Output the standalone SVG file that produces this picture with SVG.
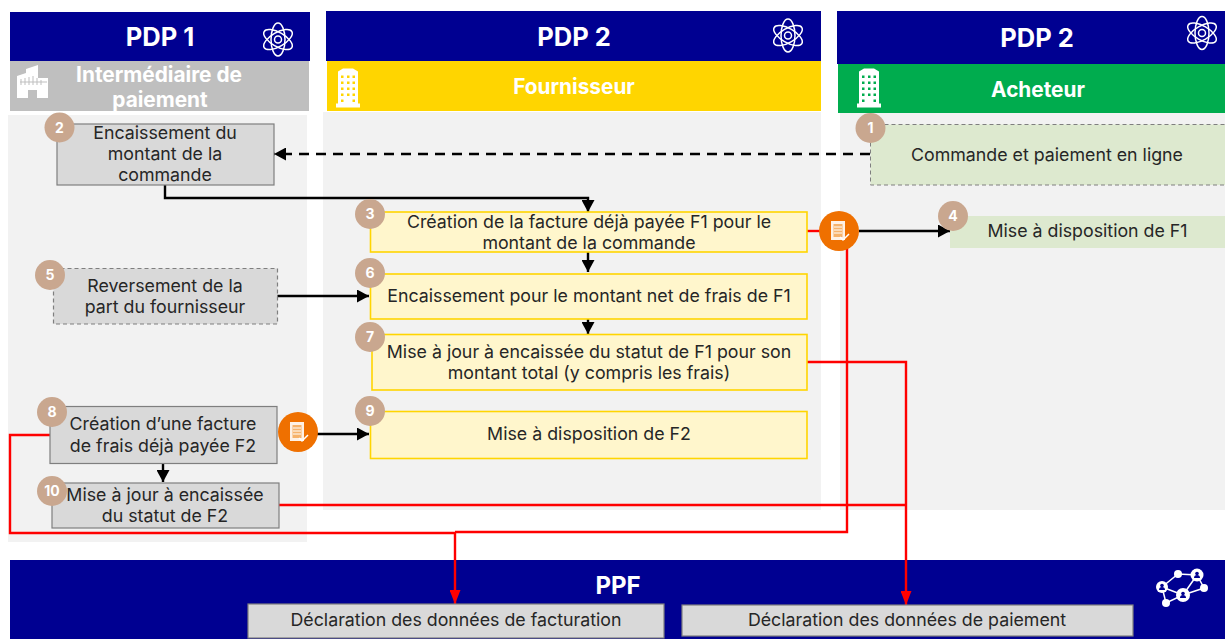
<svg xmlns="http://www.w3.org/2000/svg" width="1225" height="639" viewBox="0 0 1225 639">
<style>
text{font-family:"Inter","Noto Sans","Liberation Sans",sans-serif;text-anchor:middle}
.h{font-size:25.500px;font-weight:700;fill:#fff}
.s{font-size:20.800px;font-weight:700;fill:#fff}
.t{font-size:17.800px;fill:#262626}
.n{font-size:14px;font-weight:700;fill:#fff}
.navy{fill:#000091}
.panel{fill:#f2f2f2}
.gray{fill:#d9d9d9;stroke:#7f7f7f;stroke-width:1.2}
.dash{stroke-dasharray:4 3}
.yel{fill:#fff6cc;stroke:#ffd500;stroke-width:1.6}
.grn{fill:#dde9cf}
.b{fill:#c9a78f}
.o{fill:#ef7000}
.k{fill:none;stroke:#000;stroke-width:2.400}
.r{fill:none;stroke:#f00;stroke-width:2.400}
.i{fill:none;stroke:#fff;stroke-width:1.5}
</style>
<defs>
<marker id="ak" markerUnits="userSpaceOnUse" markerWidth="13" markerHeight="13" refX="12" refY="6.5" orient="auto"><path d="M0 0L12 6.5L0 13Z" fill="#000"/></marker>
<marker id="ar" markerUnits="userSpaceOnUse" markerWidth="14" markerHeight="11" refX="14" refY="5.5" orient="auto"><path d="M0 0L14 5.5L0 11Z" fill="#f00"/></marker>
<g id="atom" class="i"><ellipse rx="16" ry="7" transform="rotate(30)"/><ellipse rx="16" ry="7" transform="rotate(-30)"/><ellipse rx="7" ry="16.500"/><circle r="3.500"/></g>
<g id="bld"><path d="M-10 -16L-5 -19H5L10 -16V16H12V20H-12V16H-10Z" fill="#fff"/><g fill="currentColor"><rect x="-7" y="-12" width="2.500" height="2.500"/><rect x="-1" y="-12" width="2.500" height="2.500"/><rect x="4.500" y="-12" width="2.500" height="2.500"/><rect x="-7" y="-6" width="2.500" height="2.500"/><rect x="-1" y="-6" width="2.500" height="2.500"/><rect x="4.500" y="-6" width="2.500" height="2.500"/><rect x="-7" y="0" width="2.500" height="2.500"/><rect x="-1" y="0" width="2.500" height="2.500"/><rect x="4.500" y="0" width="2.500" height="2.500"/><rect x="-7" y="6" width="2.500" height="2.500"/><rect x="-1" y="6" width="2.500" height="2.500"/><rect x="4.500" y="6" width="2.500" height="2.500"/><rect x="-7" y="12" width="2.500" height="2.500"/><rect x="4.500" y="12" width="2.500" height="2.500"/></g></g>
<g id="doc"><rect x="-8" y="-10" width="14" height="19" fill="#fff" opacity=".9"/><rect x="-5.500" y="-7" width="9" height="13" fill="#f6b26b"/><path d="M-5 -4H3M-5 -1H3M-5 2H3" stroke="#fff" stroke-width="1"/><path d="M1 6L4 9L10 3" fill="none" stroke="#fff" stroke-width="1.500"/></g>
<g id="pers"><circle r="1.800" cy="-1.500" fill="#000091"/><path d="M-3 3A3 3 0 0 1 3 3Z" fill="#000091"/></g>
</defs>

<rect class="panel" x="8" y="115" width="299" height="427"/>
<rect class="panel" x="323" y="112" width="498" height="398"/>
<rect class="panel" x="840" y="113" width="385" height="397"/>

<g id="head-pdp1"><rect class="navy" x="10" y="12" width="300" height="49"/><text class="h" x="160" y="46">PDP 1</text><use href="#atom" x="278" y="39.500"/></g>
<g id="head-pdp2-f"><rect class="navy" x="326" y="11" width="495" height="50"/><text class="h" x="574" y="46">PDP 2</text><use href="#atom" x="788" y="35.500"/></g>
<g id="head-pdp2-a"><rect class="navy" x="837" y="11" width="388" height="53"/><text class="h" x="1037" y="47">PDP 2</text><use href="#atom" x="1202" y="33"/></g>

<g id="sub-intermediaire"><rect x="10" y="61" width="299" height="50" fill="#bfbfbf"/><path d="M17 98V76L26 73V69L38 65V78H48V98H37V90H28V98Z" fill="#fff"/><path d="M21 79V85M25 78V85M29 77V85M33 76V85M37 78V85M41 80V85M20 82H47" stroke="#bfbfbf" stroke-width="1"/><text class="s" x="159" y="82">Intermédiaire de</text><text class="s" x="160" y="107">paiement</text></g>
<g id="sub-fournisseur"><rect x="327" y="61" width="494" height="50" fill="#ffd500"/><use href="#bld" x="348" y="87.500" style="color:#ffd500"/><text class="s" x="574" y="94">Fournisseur</text></g>
<g id="sub-acheteur"><rect x="838" y="64" width="387" height="49" fill="#00ac4e"/><use href="#bld" x="869" y="87.500" style="color:#00ac4e"/><text class="s" x="1038" y="97">Acheteur</text></g>

<g id="ppf"><rect class="navy" x="10" y="560" width="1215" height="79"/><text class="h" x="618" y="594" style="font-size:24px">PPF</text>
<g fill="none" stroke="#fff" stroke-width="1.500"><path d="M1162 587L1178 574L1197 575L1204 588L1183 595L1166 603ZM1183 595L1162 587M1197 575L1183 595"/></g>
<g fill="#fff"><circle cx="1162" cy="587" r="6"/><circle cx="1178" cy="574" r="4"/><circle cx="1197" cy="575" r="6.500"/><circle cx="1204" cy="588" r="4"/><circle cx="1183" cy="595" r="7"/><circle cx="1166" cy="603" r="4"/></g>
<use href="#pers" x="1162" y="587"/><use href="#pers" x="1197" y="575"/><use href="#pers" x="1183" y="595"/>
</g>

<g id="connectors">
<path class="k" d="M870 154H274" stroke-dasharray="10 7" marker-end="url(#ak)"/>
<path class="k" d="M165 185V198H588V212" marker-end="url(#ak)"/>
<path class="k" d="M588 252V272" marker-end="url(#ak)"/>
<path class="k" d="M588 319V334" marker-end="url(#ak)"/>
<path class="k" d="M277 296H369" marker-end="url(#ak)"/>
<path class="k" d="M317 434H369" marker-end="url(#ak)"/>
<path class="k" d="M163 463V482" marker-end="url(#ak)"/>
<path class="k" d="M859 231H950" marker-end="url(#ak)"/>
<path class="r" d="M807 231H820"/>
<path class="r" d="M847 245V532H455"/>
<path class="r" d="M50 435H10V533H455V604" marker-end="url(#ar)"/>
<path class="r" d="M807 362H906V605" marker-end="url(#ar)"/>
<path class="r" d="M279 505H906"/>
</g>

<g id="n2"><rect class="gray" x="57" y="124" width="217" height="61"/><text class="t" x="165" y="139">Encaissement du</text><text class="t" x="165" y="160">montant de la</text><text class="t" x="165" y="181">commande</text><circle class="b" cx="59.500" cy="127.500" r="15"/><text class="n" x="59.500" y="132.500">2</text></g>
<g id="n1"><rect class="grn" x="870.500" y="124.500" width="360" height="60.500" stroke="#7f7f7f" stroke-width="1" stroke-dasharray="4 3"/><text class="t" x="1047" y="161">Commande et paiement en ligne</text><circle class="b" cx="870.500" cy="128" r="15"/><text class="n" x="870.500" y="133">1</text></g>
<g id="n3"><rect class="yel" x="370.500" y="212" width="436.500" height="40"/><text class="t" x="589" y="228">Création de la facture déjà payée F1 pour le</text><text class="t" x="589" y="249">montant de la commande</text><circle class="b" cx="370" cy="214" r="15"/><text class="n" x="370" y="219">3</text></g>
<g id="badge-f1"><circle class="o" cx="839" cy="231" r="20"/><use href="#doc" x="839" y="231"/></g>
<g id="n4"><rect class="grn" x="950" y="216" width="275" height="32"/><text class="t" x="1087.500" y="237">Mise à disposition de F1</text><circle class="b" cx="953" cy="216" r="15"/><text class="n" x="953" y="221">4</text></g>
<g id="n5"><rect class="gray dash" x="53.500" y="268.500" width="224" height="55.500"/><text class="t" x="165" y="292">Reversement de la</text><text class="t" x="165" y="313">part du fournisseur</text><circle class="b" cx="50" cy="275" r="15"/><text class="n" x="50" y="280">5</text></g>
<g id="n6"><rect class="yel" x="370.500" y="274" width="436.500" height="45"/><text class="t" x="589" y="302">Encaissement pour le montant net de frais de F1</text><circle class="b" cx="370" cy="273" r="15"/><text class="n" x="370" y="278">6</text></g>
<g id="n7"><rect class="yel" x="372" y="334.500" width="435" height="55.500"/><text class="t" x="589" y="358">Mise à jour à encaissée du statut de F1 pour son</text><text class="t" x="589" y="379">montant total (y compris les frais)</text><circle class="b" cx="370" cy="337" r="15"/><text class="n" x="370" y="342">7</text></g>
<g id="n8"><rect class="gray" x="50" y="406.500" width="227" height="57"/><text class="t" x="163" y="430">Création d’une facture</text><text class="t" x="163" y="452">de frais déjà payée F2</text><circle class="b" cx="52" cy="412" r="15"/><text class="n" x="52" y="417">8</text></g>
<g id="badge-f2"><circle class="o" cx="298" cy="432" r="20"/><use href="#doc" x="298" y="432"/></g>
<g id="n9"><rect class="yel" x="370.500" y="411.500" width="436.500" height="47"/><text class="t" x="589" y="440">Mise à disposition de F2</text><circle class="b" cx="370" cy="411" r="15"/><text class="n" x="370" y="416">9</text></g>
<g id="n10"><rect class="gray" x="52" y="483" width="227" height="45"/><text class="t" x="165" y="501">Mise à jour à encaissée</text><text class="t" x="165" y="522">du statut de F2</text><circle class="b" cx="52" cy="491" r="15"/><text class="n" x="52" y="496">10</text></g>

<g id="decl-fact"><rect class="gray" x="248" y="604" width="416" height="34"/><text class="t" x="456" y="626">Déclaration des données de facturation</text></g>
<g id="decl-paie"><rect class="gray" x="682" y="605" width="451" height="31"/><text class="t" x="907" y="626">Déclaration des données de paiement</text></g>
</svg>
